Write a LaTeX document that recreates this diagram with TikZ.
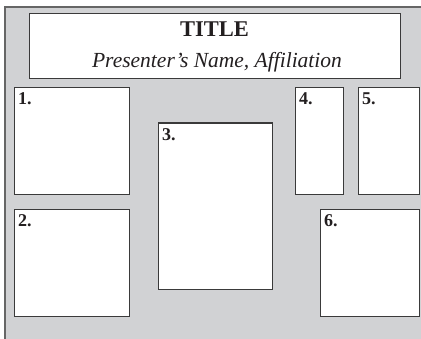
\documentclass[tikz,border=0pt]{standalone}
\usepackage{fontspec}
\setmainfont{Liberation Serif}
\definecolor{bg}{HTML}{D1D2D4}
\definecolor{edge}{HTML}{3A3A3A}
\definecolor{ink}{HTML}{231F20}
\begin{document}
\begin{tikzpicture}[x=1pt,y=-1pt,
  panel/.style={draw=edge,fill=white,line width=1.3pt,inner sep=0pt,anchor=north west},
  lbl/.style={anchor=base west,inner sep=0pt,text=ink,font=\fontsize{18}{20}\selectfont\bfseries}]
\useasboundingbox (0,0) rectangle (421,339);
\fill[bg] (5,7) rectangle (421,339);
\draw[line width=2pt,color=black!60] (5,339) -- (5,7) -- (421,7);
% title
\node[panel,minimum width=371pt,minimum height=65pt] (title) at (29,13) {};
\node[anchor=base,inner sep=0pt,text=ink,font=\fontsize{22.5}{24}\selectfont\bfseries] (t1) at (214.5,36.5) {TITLE};
\node[anchor=base,inner sep=0pt,text=ink,font=\fontsize{21.5}{24}\selectfont\itshape] (t2) at (217,68) {Presenter’s Name, Affiliation};
% panels
\node[panel,minimum width=114.5pt,minimum height=107pt] (b1) at (14,87) {};
\node[panel,minimum width=114.5pt,minimum height=107pt] (b2) at (14,209) {};
\node[panel,minimum width=114pt,minimum height=166.5pt] (b3) at (158,122.5) {};
\node[panel,minimum width=48pt,minimum height=107pt] (b4) at (295,87) {};
\node[panel,minimum width=60.5pt,minimum height=107pt] (b5) at (358,87) {};
\node[panel,minimum width=98.5pt,minimum height=107pt] (b6) at (320,209) {};
\foreach \b/\t in {b1/1.,b2/2.,b3/3.,b4/4.,b5/5.,b6/6.}
  \node[lbl] (l\b) at ([xshift=4pt,yshift=-18pt]\b.north west) {\t};
\end{tikzpicture}
\end{document}
